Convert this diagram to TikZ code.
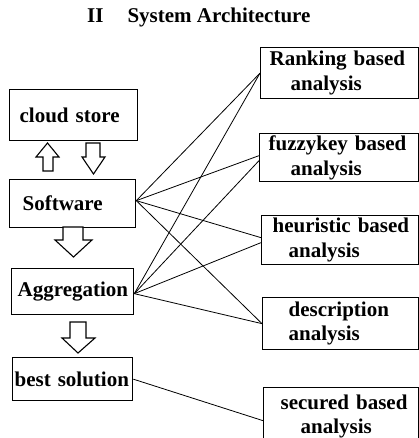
\documentclass[tikz,border=0pt]{standalone}
\usepackage{fontspec}
\setmainfont{Liberation Serif}
\usetikzlibrary{positioning,calc}

\tikzset{
  blockbox/.style={draw,line width=1.3pt,anchor=north west,inner sep=0pt,align=left,
    font=\fontsize{21}{24.5}\selectfont\bfseries},
  link/.style={line width=0.8pt},
  hollow/.style={draw,line width=1.1pt,fill=white}
}

\begin{document}
\begin{tikzpicture}[x=1pt,y=-1pt]
    \useasboundingbox (0,0) rectangle (419,438);

    % Title
    \node[font=\fontsize{21}{24}\selectfont\bfseries,anchor=base west,inner sep=0pt] (title) at (87,23) {II\hspace{24pt}System Architecture};

    % Left column
    \node[blockbox,text width=128pt,minimum height=51pt] (cloud) at (9,89) {\hspace*{10pt}cloud store};
    \node[blockbox,text width=126pt,minimum height=48pt] (sw) at (9,179) {\hspace*{13pt}Software};
    \node[blockbox,text width=122pt,minimum height=46pt] (agg) at (11,268) {\hspace*{6pt}Aggregation};
    \node[blockbox,text width=120pt,minimum height=43pt] (best) at (12,357) {\hspace*{2pt}best solution};

    % Right column
    \node[blockbox,text width=158pt,minimum height=51pt] (rank) at (260,47) {\hspace*{9pt}Ranking based\\\hspace*{30pt}analysis};
    \node[blockbox,text width=159pt,minimum height=48pt] (fuzzy) at (259,133) {\hspace*{9pt}fuzzykey based\\\hspace*{31pt}analysis};
    \node[blockbox,text width=157pt,minimum height=49pt] (heur) at (261,215) {\hspace*{11pt}heuristic based\\\hspace*{27pt}analysis};
    \node[blockbox,text width=156pt,minimum height=52pt] (desc) at (262,297) {\hspace*{26pt}description\\\hspace*{26pt}analysis};
    \node[blockbox,text width=155pt,minimum height=58pt] (sec) at (263,387) {\hspace*{17pt}secured based\\\hspace*{37pt}analysis};

    % Hollow arrows
    \draw[hollow] (43,171) -- (43,157) -- (36,157) -- (47.5,143) -- (59,157) -- (53,157) -- (53,171) -- cycle;
    \draw[hollow] (86,143) -- (100,143) -- (100,157) -- (105,157) -- (93.5,174) -- (82,157) -- (86,157) -- cycle;
    \draw[hollow] (63,227) -- (83,227) -- (83,240) -- (92,240) -- (73.5,257) -- (55,240) -- (63,240) -- cycle;
    \draw[hollow] (70,322) -- (86,322) -- (86,338) -- (95,338) -- (78,353) -- (62,338) -- (70,338) -- cycle;

    % Links from Software
    \draw[link] ([yshift=3pt]sw.east) -- (rank.west);
    \draw[link] ([yshift=3pt]sw.east) -- ([yshift=2pt]fuzzy.west);
    \draw[link] ([yshift=3pt]sw.east) -- ([yshift=2.5pt]heur.west);
    \draw[link] ([yshift=3pt]sw.east) -- (desc.west);

    % Links from Aggregation
    \draw[link] ([yshift=-2pt]agg.east) -- (rank.west);
    \draw[link] ([yshift=-2pt]agg.east) -- ([yshift=-3pt]fuzzy.west);
    \draw[link] ([yshift=-2pt]agg.east) -- ([yshift=-2.5pt]heur.west);
    \draw[link] ([yshift=-2pt]agg.east) -- (desc.west);

    % best solution to secured
    \draw[link] (best.east) -- ([yshift=-4pt]sec.west);
\end{tikzpicture}
\end{document}
